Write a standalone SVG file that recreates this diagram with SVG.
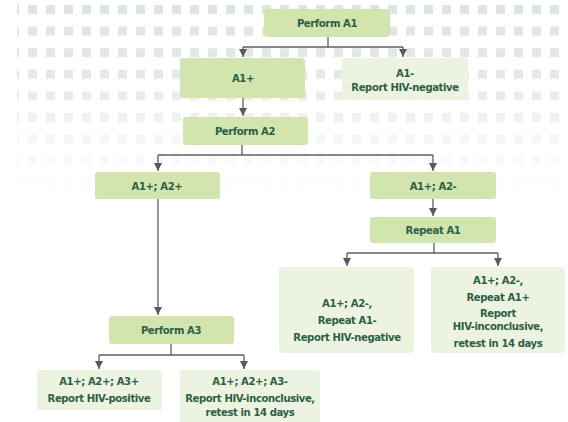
<svg xmlns="http://www.w3.org/2000/svg" width="568" height="422" viewBox="0 0 568 422">
<defs>
<pattern id="dots" patternUnits="userSpaceOnUse" x="10" y="5" width="18" height="21.6">
<rect x="0" y="0" width="9" height="9" fill="#dde5e2"/>
</pattern>
<linearGradient id="fade" x1="0" y1="0" x2="0" y2="1">
<stop offset="0" stop-color="#fff"/>
<stop offset="0.4" stop-color="#fff" stop-opacity="0.85"/>
<stop offset="0.75" stop-color="#fff" stop-opacity="0.3"/>
<stop offset="1" stop-color="#fff" stop-opacity="0.04"/>
</linearGradient>
<mask id="m" maskUnits="userSpaceOnUse" x="0" y="0" width="568" height="190">
<rect x="0" y="0" width="568" height="190" fill="url(#fade)"/>
</mask>
<marker id="ah" viewBox="0 0 8 10" refX="8" refY="5" markerWidth="8" markerHeight="10" markerUnits="userSpaceOnUse" orient="auto">
<path d="M0,1 L8,5 L0,9 Z" fill="#5a5a5a"/>
</marker>
<style>
.dk{fill:#d2e5ae;}
.lt{fill:#ecf4e1;}
.t{font-family:"DejaVu Sans Condensed","DejaVu Sans",sans-serif;font-stretch:condensed;font-size:11.2px;font-weight:bold;letter-spacing:-0.4px;fill:#2c5e46;text-anchor:middle;}
.c{fill:none;stroke:#5f5f5f;stroke-width:1.3;}
</style>
</defs>
<rect width="568" height="422" fill="#fff"/>
<rect x="17" y="0" width="551" height="190" fill="url(#dots)" mask="url(#m)"/>

<g id="connectors">
<path class="c" d="M328,37 V47 M243,47 H403"/>
<path class="c" d="M243,47 V57" marker-end="url(#ah)"/>
<path class="c" d="M403,47 V57" marker-end="url(#ah)"/>
<path class="c" d="M243,98 V116" marker-end="url(#ah)"/>
<path class="c" d="M242,145 V155 M158,155 H433"/>
<path class="c" d="M158,155 V171" marker-end="url(#ah)"/>
<path class="c" d="M433,155 V171" marker-end="url(#ah)"/>
<path class="c" d="M433,199 V216" marker-end="url(#ah)"/>
<path class="c" d="M434,243 V253 M347,253 H498"/>
<path class="c" d="M347,253 V266" marker-end="url(#ah)"/>
<path class="c" d="M498,253 V266" marker-end="url(#ah)"/>
<path class="c" d="M158,199 V315" marker-end="url(#ah)"/>
<path class="c" d="M171,344 V355 M99,355 H244"/>
<path class="c" d="M99,355 V369" marker-end="url(#ah)"/>
<path class="c" d="M244,355 V369" marker-end="url(#ah)"/>
</g>

<g id="perform-a1"><rect class="dk" x="264" y="9" width="126" height="28" rx="3"/><text class="t" x="327" y="27">Perform A1</text></g>
<g id="a1-pos"><rect class="dk" x="180" y="58" width="125" height="40" rx="3"/><text class="t" x="243" y="82">A1+</text></g>
<g id="a1-neg"><rect class="lt" x="342" y="58" width="126" height="42" rx="3"/><text class="t" x="405" y="77">A1-</text><text class="t" x="405" y="91">Report HIV-negative</text></g>
<g id="perform-a2"><rect class="dk" x="183" y="117" width="125" height="28" rx="3"/><text class="t" x="245" y="135">Perform A2</text></g>
<g id="a1p-a2p"><rect class="dk" x="95" y="172" width="125" height="27" rx="3"/><text class="t" x="157" y="190">A1+; A2+</text></g>
<g id="a1p-a2n"><rect class="dk" x="370" y="172" width="126" height="27" rx="3"/><text class="t" x="433" y="190">A1+; A2-</text></g>
<g id="repeat-a1"><rect class="dk" x="370" y="217" width="126" height="26" rx="3"/><text class="t" x="433" y="234">Repeat A1</text></g>
<g id="repeat-neg"><rect class="lt" x="279" y="267" width="135" height="86" rx="3"/><text class="t" x="347" y="307">A1+; A2-,</text><text class="t" x="347" y="324">Repeat A1-</text><text class="t" x="347" y="341">Report HIV-negative</text></g>
<g id="repeat-pos"><rect class="lt" x="431" y="267" width="134" height="86" rx="3"/><text class="t" x="498" y="284">A1+; A2-,</text><text class="t" x="498" y="301">Repeat A1+</text><text class="t" x="498" y="317">Report</text><text class="t" x="498" y="330">HIV-inconclusive,</text><text class="t" x="498" y="347">retest in 14 days</text></g>
<g id="perform-a3"><rect class="dk" x="109" y="316" width="125" height="28" rx="3"/><text class="t" x="171" y="334">Perform A3</text></g>
<g id="a3-pos"><rect class="lt" x="37" y="370" width="125" height="40" rx="3"/><text class="t" x="99" y="385">A1+; A2+; A3+</text><text class="t" x="99" y="402">Report HIV-positive</text></g>
<g id="a3-neg"><rect class="lt" x="180" y="370" width="140" height="54" rx="3"/><text class="t" x="250" y="385">A1+; A2+; A3-</text><text class="t" x="250" y="402">Report HIV-inconclusive,</text><text class="t" x="250" y="416">retest in 14 days</text></g>
</svg>
